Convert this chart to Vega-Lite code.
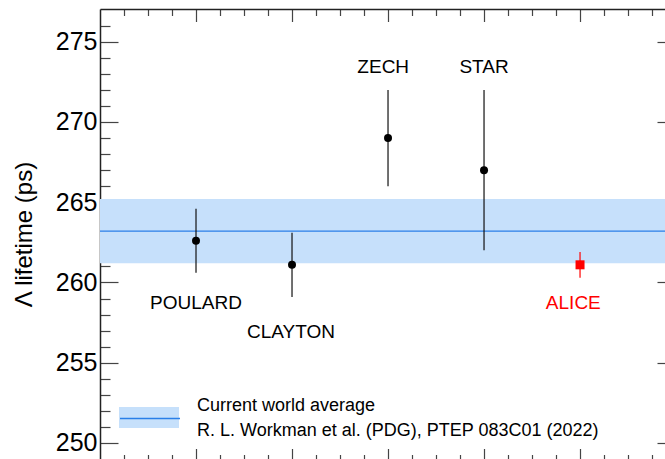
{
  "$schema": "https://vega.github.io/schema/vega-lite/v6.json",
  "width": 565,
  "height": 450,
  "autosize": "none",
  "padding": {"left": 100, "top": 9, "right": 0, "bottom": 0},
  "background": "white",
  "config": {
    "view": {"stroke": null},
    "font": "Liberation Sans",
    "style": {"guide-label": {"lineHeight": 25}}
  },
  "datasets": {
    "meas": [
      {"name": "POULARD", "pos": 1, "tau": 262.6, "lo": 260.6, "hi": 264.6, "label_x": 1.0, "label_y": 258.7},
      {"name": "CLAYTON", "pos": 2, "tau": 261.1, "lo": 259.1, "hi": 263.1, "label_x": 1.99, "label_y": 256.9},
      {"name": "ZECH", "pos": 3, "tau": 269.0, "lo": 266.0, "hi": 272.0, "label_x": 2.95, "label_y": 273.4},
      {"name": "STAR", "pos": 4, "tau": 267.0, "lo": 262.0, "hi": 272.0, "label_x": 4.0, "label_y": 273.4},
      {"name": "ALICE", "pos": 5, "tau": 261.1, "lo": 260.3, "hi": 261.9, "label_x": 4.93, "label_y": 258.7}
    ],
    "avg": [
      {"series": "Current world average", "tau": 263.2, "lo": 261.2, "hi": 265.2}
    ]
  },
  "resolve": {"axis": {"x": "independent", "y": "independent"}},
  "layer": [
    {
      "data": {"name": "avg"},
      "mark": {"type": "rect"},
      "encoding": {
        "y": {
          "field": "lo", "type": "quantitative",
          "scale": {"domain": [249, 277.04], "nice": false, "zero": false},
          "axis": {
            "orient": "left",
            "values": [250,251,252,253,254,255,256,257,258,259,260,261,262,263,264,265,266,267,268,269,270,271,272,273,274,275,276],
            "tickSize": {"condition": {"test": "datum.value % 5 === 0", "value": -18}, "value": -10},
            "labelExpr": "datum.value % 5 === 0 ? datum.label : ''",
            "labelPadding": 21,
            "labelFontSize": 25,
            "labelFont": "Liberation Sans",
            "labelColor": "black",
            "labelOverlap": false,
            "tickColor": "#444",
            "tickWidth": 1.2,
            "domain": true,
            "domainColor": "#222",
            "domainWidth": 1.5,
            "grid": false,
            "title": "Λ lifetime (ps)",
            "titleFontSize": 24,
            "titleFont": "Liberation Sans",
            "titleFontWeight": "normal",
            "titleColor": "black",
            "titlePadding": 19
          }
        },
        "y2": {"field": "hi"},
        "fill": {
          "field": "series", "type": "nominal",
          "scale": {"range": ["#c6e0fb"]},
          "legend": {
            "orient": "none", "legendX": 19, "legendY": 378.5,
            "title": null, "padding": 0,
            "symbolType": "M-1,-0.35H1V0.35H-1Z",
            "symbolSize": 3600,
            "symbolStrokeWidth": 0,
            "symbolOpacity": 1,
            "labelExpr": "['Current world average', 'R. L. Workman et al. (PDG), PTEP 083C01 (2022)']",
            "labelFontSize": 18,
            "labelFont": "Liberation Sans",
            "labelColor": "black",
            "labelBaseline": "line-bottom",
            "labelLimit": 600,
            "labelOffset": 18
          }
        }
      }
    },
    {
      "data": {"name": "avg"},
      "mark": {"type": "rule", "strokeWidth": 1.2},
      "encoding": {
        "y": {
          "field": "tau", "type": "quantitative",
          "axis": {
            "orient": "right",
            "offset": 10,
            "values": [250,251,252,253,254,255,256,257,258,259,260,261,262,263,264,265,266,267,268,269,270,271,272,273,274,275,276],
            "tickSize": {"condition": {"test": "datum.value % 5 === 0", "value": -18}, "value": -10},
            "labels": false,
            "tickColor": "#444",
            "tickWidth": 1.2,
            "domain": false,
            "grid": false,
            "title": null
          }
        },
        "stroke": {
          "datum": "avg", "type": "nominal",
          "scale": {"range": ["#2a7fe8"]},
          "legend": {
            "orient": "none", "legendX": 19, "legendY": 378.5,
            "title": null, "padding": 0,
            "symbolType": "M-1,0H1",
            "symbolSize": 3600,
            "symbolStrokeWidth": 1.5,
            "labelExpr": "''"
          }
        }
      }
    },
    {
      "data": {"name": "meas"},
      "mark": {"type": "rule", "strokeWidth": 1.2},
      "encoding": {
        "x": {
          "field": "pos", "type": "quantitative",
          "scale": {"domain": [0, 5.885], "nice": false, "zero": false},
          "axis": {
            "orient": "top",
            "values": [0.25,0.5,0.75,1,1.25,1.5,1.75,2,2.25,2.5,2.75,3,3.25,3.5,3.75,4,4.25,4.5,4.75,5,5.25,5.5,5.75],
            "tickSize": {"condition": {"test": "datum.value % 1 === 0", "value": -12.5}, "value": -6.5},
            "labels": false,
            "tickColor": "#444",
            "tickWidth": 1.2,
            "domain": true,
            "domainColor": "#222",
            "domainWidth": 1.5,
            "grid": false,
            "title": null
          }
        },
        "y": {"field": "lo", "type": "quantitative", "axis": null},
        "y2": {"field": "hi"},
        "color": {"condition": {"test": "datum.name === 'ALICE'", "value": "#ff0000"}, "value": "#111111"}
      }
    },
    {
      "data": {"name": "meas"},
      "mark": {"type": "point", "filled": true, "opacity": 1},
      "encoding": {
        "x": {
          "field": "pos", "type": "quantitative",
          "axis": {
            "orient": "bottom",
            "offset": 2,
            "values": [0.25,0.5,0.75,1,1.25,1.5,1.75,2,2.25,2.5,2.75,3,3.25,3.5,3.75,4,4.25,4.5,4.75,5,5.25,5.5,5.75],
            "tickSize": {"condition": {"test": "datum.value % 1 === 0", "value": -12.5}, "value": -6.5},
            "labels": false,
            "tickColor": "#444",
            "tickWidth": 1.2,
            "domain": false,
            "grid": false,
            "title": null
          }
        },
        "y": {"field": "tau", "type": "quantitative", "axis": null},
        "shape": {"condition": {"test": "datum.name === 'ALICE'", "value": "square"}, "value": "circle"},
        "size": {"condition": {"test": "datum.name === 'ALICE'", "value": 81}, "value": 64},
        "color": {"condition": {"test": "datum.name === 'ALICE'", "value": "#ff0000"}, "value": "#000000"}
      }
    },
    {
      "data": {"name": "meas"},
      "mark": {"type": "text", "fontSize": 19, "font": "Liberation Sans", "baseline": "middle", "align": "center"},
      "encoding": {
        "x": {"field": "label_x", "type": "quantitative", "axis": null},
        "y": {"field": "label_y", "type": "quantitative", "axis": null},
        "text": {"field": "name"},
        "color": {"condition": {"test": "datum.name === 'ALICE'", "value": "#ff0000"}, "value": "#000000"}
      }
    }
  ]
}
